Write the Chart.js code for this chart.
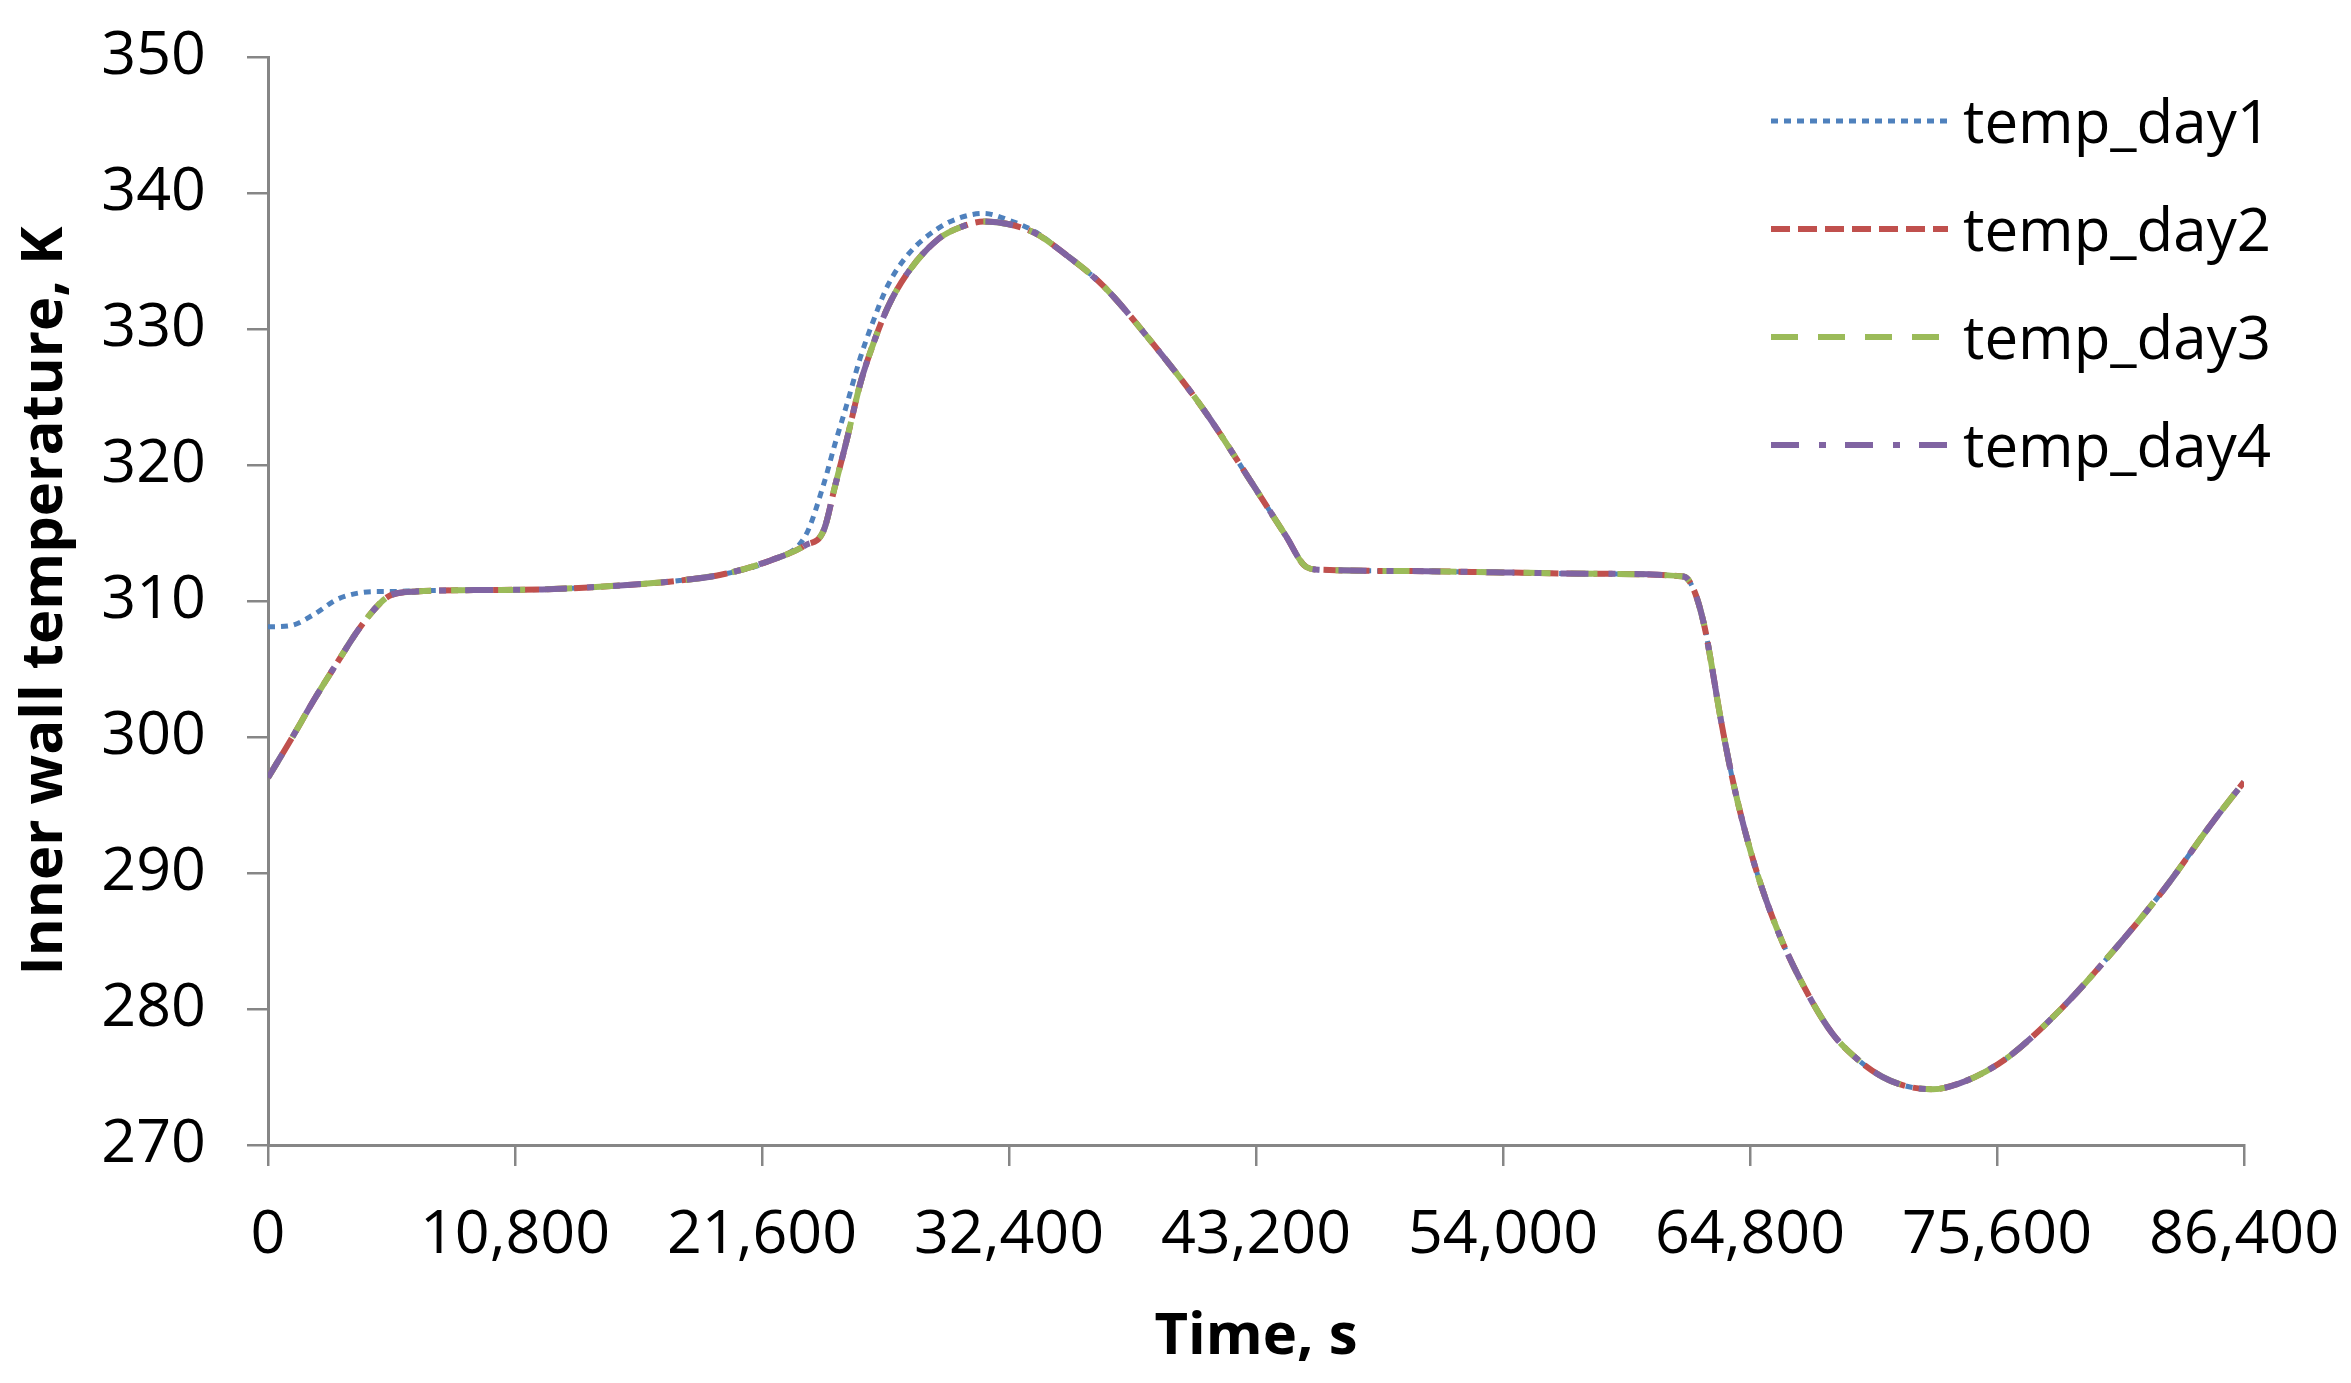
<!DOCTYPE html>
<html>
<head>
<meta charset="utf-8">
<script src="https://cdn.jsdelivr.net/npm/chart.js@4/dist/chart.umd.min.js"></script>
<style>
  html, body { margin: 0; padding: 0; background: #fff; }
  #wrap { width: 2351px; height: 1383px; }
</style>
</head>
<body>
<div id="wrap"><canvas id="c" width="2351" height="1383"></canvas></div>
<script>
// ---- data ----
const timeS = [0, 1000, 2000, 3000, 4000, 5000, 5400, 6500, 9000, 12000, 15000, 18000, 20000, 22000, 23500,
  24300, 24800, 25300, 25900, 26400, 27100, 28000, 29300, 30300, 31300, 32400, 33600, 34700, 36500, 38700,
  40900, 43200, 44500, 45400, 46000, 50000, 54000, 58000, 61900, 62350, 62800, 63100, 63500, 64100, 65000,
  66100, 67300, 68400, 69500, 70600, 71700, 72800, 73900, 75100, 76200, 78400, 80600, 82900, 85100, 86400];

const tempDay1 = [308.1, 308.2, 309.0, 310.1, 310.6, 310.7, 310.7, 310.75, 310.8, 310.85, 311.1, 311.5, 312.0, 313.0, 314.8,
  318.6, 321.6, 324.4, 327.9, 330.3, 333.2, 335.5, 337.4, 338.2, 338.5, 338.0, 337.1, 335.7, 333.2, 328.9,
  324.1, 318.2, 314.8, 312.5, 312.3, 312.2, 312.1, 312.0, 311.8, 310.8, 308.2, 305.5, 301.5, 296.4, 290.6,
  285.4, 281.2, 278.2, 276.3, 275.0, 274.3, 274.1, 274.5, 275.4, 276.6, 280.0, 284.1, 288.8, 293.9, 296.7];

const tempDay2 = [297.0, 299.8, 302.7, 305.4, 308.0, 310.0, 310.45, 310.7, 310.8, 310.85, 311.1, 311.5, 312.0, 313.0, 314.1,
  315.2, 318.5, 321.8, 326.0, 328.6, 331.6, 334.2, 336.6, 337.5, 337.9, 337.7, 337.0, 335.7, 333.2, 328.9,
  324.1, 318.2, 314.8, 312.5, 312.3, 312.2, 312.1, 312.0, 311.8, 310.8, 308.2, 305.5, 301.5, 296.4, 290.6,
  285.4, 281.2, 278.2, 276.3, 275.0, 274.3, 274.1, 274.5, 275.4, 276.6, 280.0, 284.1, 288.8, 293.9, 296.7];

const tempDay3 = [297.0, 299.8, 302.7, 305.4, 308.0, 310.0, 310.45, 310.7, 310.8, 310.85, 311.1, 311.5, 312.0, 313.0, 314.1,
  315.2, 318.5, 321.8, 326.0, 328.6, 331.6, 334.2, 336.6, 337.5, 337.9, 337.7, 337.0, 335.7, 333.2, 328.9,
  324.1, 318.2, 314.8, 312.5, 312.3, 312.2, 312.1, 312.0, 311.8, 310.8, 308.2, 305.5, 301.5, 296.4, 290.6,
  285.4, 281.2, 278.2, 276.3, 275.0, 274.3, 274.1, 274.5, 275.4, 276.6, 280.0, 284.1, 288.8, 293.9, 296.7];

const tempDay4 = [297.0, 299.8, 302.7, 305.4, 308.0, 310.0, 310.45, 310.7, 310.8, 310.85, 311.1, 311.5, 312.0, 313.0, 314.1,
  315.2, 318.5, 321.8, 326.0, 328.6, 331.6, 334.2, 336.6, 337.5, 337.9, 337.7, 337.0, 335.7, 333.2, 328.9,
  324.1, 318.2, 314.8, 312.5, 312.3, 312.2, 312.1, 312.0, 311.8, 310.8, 308.2, 305.5, 301.5, 296.4, 290.6,
  285.4, 281.2, 278.2, 276.3, 275.0, 274.3, 274.1, 274.5, 275.4, 276.6, 280.0, 284.1, 288.8, 293.9, 296.7];

const seriesNames = ['temp_day1', 'temp_day2', 'temp_day3', 'temp_day4'];
const xTickValues = [0, 10800, 21600, 32400, 43200, 54000, 64800, 75600, 86400];
const yTickValues = [270, 280, 290, 300, 310, 320, 330, 340, 350];
const xTitle = 'Time, s';
const yTitle = 'Inner wall temperature, K';

// ---- build ----
const toPts = (vals) => vals.map((v, i) => ({ x: timeS[i], y: v }));
const styles = [
  { color: '#4F81BD', dash: [7, 6], width: 5 },
  { color: '#C0504D', dash: [19, 8], width: 6 },
  { color: '#9BBB59', dash: [27, 20], width: 6 },
  { color: '#8064A2', dash: [28, 20, 7, 19], width: 6 }
];
const allVals = [tempDay1, tempDay2, tempDay3, tempDay4];

const datasets = allVals.map((vals, i) => ({
  label: seriesNames[i],
  data: toPts(vals),
  borderColor: styles[i].color,
  backgroundColor: styles[i].color,
  borderWidth: styles[i].width,
  borderDash: styles[i].dash,
  borderCapStyle: 'butt',
  pointRadius: 0,
  pointHoverRadius: 0,
  fill: false,
  cubicInterpolationMode: 'monotone',
  order: 4 - i
}));

const axisGray = '#868686';
const tickFont = { family: '"Open Sans", "DejaVu Sans", sans-serif', size: 61 };
const titleFont = { family: '"Open Sans", "DejaVu Sans", sans-serif', size: 58, weight: 'bold', lineHeight: 1.2 };

const insideLegend = {
  id: 'insideLegend',
  afterDraw(chart, args, opts) {
    const ctx = chart.ctx;
    chart.data.datasets.forEach((ds, i) => {
      const y = opts.top + i * opts.rowGap;
      ctx.save();
      ctx.strokeStyle = ds.borderColor;
      ctx.lineWidth = ds.borderWidth;
      ctx.lineCap = 'butt';
      ctx.setLineDash(ds.borderDash);
      ctx.beginPath();
      ctx.moveTo(opts.lineX0, y);
      ctx.lineTo(opts.lineX1, y);
      ctx.stroke();
      ctx.setLineDash([]);
      ctx.fillStyle = '#000';
      ctx.font = opts.font;
      ctx.textBaseline = 'alphabetic';
      ctx.textAlign = 'left';
      ctx.fillText(ds.label, opts.textX, y + opts.textDy);
      ctx.restore();
    });
  }
};

new Chart(document.getElementById('c'), {
  type: 'line',
  data: { datasets },
  plugins: [insideLegend],
  options: {
    responsive: false,
    devicePixelRatio: 1,
    animation: false,
    events: [],
    layout: { padding: { top: 57, right: 107, bottom: 0, left: 0 } },
    plugins: {
      legend: { display: false },
      tooltip: { enabled: false },
      insideLegend: {
        top: 121, rowGap: 108, lineX0: 1771, lineX1: 1948, textX: 1963, textDy: 22,
        font: '60px "Open Sans", "DejaVu Sans", sans-serif'
      }
    },
    scales: {
      x: {
        type: 'linear',
        min: 0, max: 86400,
        afterBuildTicks: (s) => { s.ticks = xTickValues.map(v => ({ value: v })); },
        afterFit: (s) => { s.height = 238; s.paddingLeft = 0; s.paddingRight = 0; },
        border: { display: true, color: axisGray, width: 3 },
        grid: { display: true, drawOnChartArea: false, drawTicks: true, tickLength: 21, color: axisGray, lineWidth: 2.5 },
        ticks: {
          autoSkip: false, maxRotation: 0, minRotation: 0, padding: 33,
          color: '#000', font: tickFont,
          callback: (v) => Number(v).toLocaleString('en-US')
        },
        title: { display: true, text: xTitle, color: '#000', font: titleFont, padding: { top: 0, bottom: 11 } }
      },
      y: {
        type: 'linear',
        min: 270, max: 350,
        afterBuildTicks: (s) => { s.ticks = yTickValues.map(v => ({ value: v })); },
        afterFit: (s) => { s.width = 268; s.paddingTop = 0; s.paddingBottom = 0; },
        border: { display: true, color: axisGray, width: 3 },
        grid: { display: true, drawOnChartArea: false, drawTicks: true, tickLength: 21, color: axisGray, lineWidth: 2.5 },
        ticks: { padding: 41, color: '#000', font: tickFont },
        title: { display: true, text: yTitle, color: '#000', font: titleFont, padding: { top: 11, bottom: 0 } }
      }
    }
  }
});
</script>
</body>
</html>
